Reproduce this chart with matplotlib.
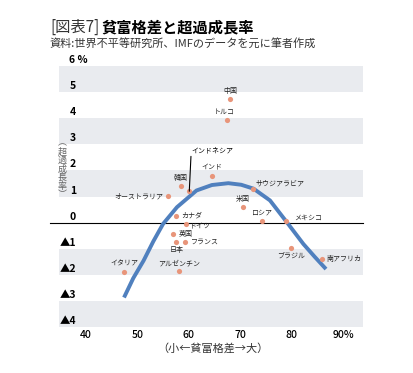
import numpy as np
import matplotlib
matplotlib.use('Agg')
from matplotlib import pyplot as plt

plt.rcParams['font.family'] = ['Noto Sans CJK JP', 'DejaVu Sans']

# data
countries = ['中国', 'トルコ', 'インドネシア', 'インド', '韓国', 'オーストラリア',
             'サウジアラビア', '米国', 'カナダ', 'ドイツ', '英国', '日本',
             'フランス', 'イタリア', 'アルゼンチン', 'ロシア', 'メキシコ',
             'ブラジル', '南アフリカ']
inequality = [68.0, 67.4, 60.1, 64.6, 58.4, 56.0,
              72.4, 70.6, 57.5, 59.4, 57.0, 57.6,
              59.3, 47.4, 58.1, 74.2, 78.9,
              79.9, 85.9]
excess_growth = [4.72, 3.92, 1.20, 1.80, 1.42, 1.01,
                 1.27, 0.59, 0.27, -0.05, -0.45, -0.75,
                 -0.75, -1.88, -1.87, 0.08, 0.08,
                 -0.96, -1.40]

curve_x = [47.4, 49.2, 51.2, 53.1, 55.0, 57.7, 61.5, 64.5, 67.7, 70.2,
           72.6, 75.8, 79.1, 82.3, 84.5, 86.7]
curve_y = [-2.87, -2.13, -1.46, -0.72, -0.05, 0.59, 1.23, 1.44, 1.51, 1.45,
           1.30, 0.85, 0.01, -0.82, -1.31, -1.78]

y_ticks = [6, 5, 4, 3, 2, 1, 0, -1, -2, -3, -4]
y_labels = ['6 %', '5', '4', '3', '2', '1', '0', '▲1', '▲2', '▲3', '▲4']
x_ticks = [40, 50, 60, 70, 80, 90]
x_labels = ['40', '50', '60', '70', '80', '90%']

# label placement (pixel offsets from the dot, alignment)
label_pos = {
    '中国': (0, 8, 'center'), 'トルコ': (-3, 8, 'center'),
    'インド': (-1, 8, 'center'), '韓国': (0, 8, 'center'),
    'オーストラリア': (-5, 0, 'right'), 'サウジアラビア': (3, 6, 'left'),
    '米国': (0, 8, 'center'), 'カナダ': (5, 0, 'left'),
    'ドイツ': (4, -3, 'left'), '英国': (5, 0, 'left'),
    '日本': (0, -8, 'center'), 'フランス': (6, 0, 'left'),
    'イタリア': (0, 8, 'center'), 'アルゼンチン': (0, 8, 'center'),
    'ロシア': (0, 8, 'center'), 'メキシコ': (8, 3, 'left'),
    'ブラジル': (0, -8, 'center'), '南アフリカ': (5, 0, 'left'),
}

W, H = 413, 373
fig = plt.figure(figsize=(W / 100, H / 100), dpi=100)
ax = fig.add_axes([59 / W, 1 - 327 / H, 304 / W, 261 / H])
ax.set_xlim(34.75, 93.9)
ax.set_ylim(-4, 6)

band = '#e9ebef'
for lo in [1, 3, 5, -2, -4]:
    ax.axhspan(lo, lo + 1, color=band, lw=0, zorder=0)

ax.plot([33.0, 93.9], [0, 0], color='black', lw=0.8, clip_on=False, zorder=1)

ax.plot(curve_x, curve_y, color='#5080be', lw=2.8, solid_capstyle='butt',
        solid_joinstyle='round', zorder=2)
ax.scatter(inequality, excess_growth, s=14, color='#e8957a', lw=0, zorder=3)

for name, x, y in zip(countries, inequality, excess_growth):
    if name == 'インドネシア':
        ax.annotate(name, xy=(x, y), xytext=(2, 41), textcoords='offset pixels',
                    fontsize=5, ha='left', va='center',
                    bbox=dict(boxstyle='square,pad=0.3', fc='none', ec='none'),
                    arrowprops=dict(arrowstyle='-', color='black', lw=0.8,
                                    shrinkA=0, shrinkB=0, relpos=(0, 0.6)))
        continue
    dx, dy, ha = label_pos[name]
    ax.annotate(name, xy=(x, y), xytext=(dx, dy), textcoords='offset pixels',
                fontsize=5, ha=ha, va='center', color='#222222')

ytf = ax.get_yaxis_transform()
for v, lab in zip(y_ticks, y_labels):
    if lab.endswith('%'):
        ax.annotate(lab, xy=(10 / 304, v), xycoords=ytf, xytext=(0, 6),
                    textcoords='offset pixels', ha='left', va='center',
                    fontsize=7.5, fontweight='bold', annotation_clip=False)
    else:
        ax.annotate(lab, xy=(17 / 304, v), xycoords=ytf, xytext=(0, 6),
                    textcoords='offset pixels', ha='right', va='center',
                    fontsize=7.5, fontweight='bold', annotation_clip=False)

ax.set_xticks(x_ticks, x_labels)
ax.set_yticks([])
ax.tick_params(axis='x', length=0, pad=2, labelsize=7.5)
for t in ax.get_xticklabels():
    t.set_fontweight('medium')
for s in ax.spines.values():
    s.set_visible(False)

fig.text(50 / W, 1 - 27 / H, '[図表7]', fontsize=11, color='#333333',
         va='center', ha='left')
fig.text(101 / W, 1 - 27 / H, '貧富格差と超過成長率', fontsize=11,
         fontweight='bold', va='center', ha='left')
fig.text(50 / W, 1 - 43 / H, '資料:世界不平等研究所、IMFのデータを元に筆者作成',
         fontsize=8, color='#333333', va='center', ha='left')
fig.text(62 / W, 1 - 169 / H, '︵\n超\n過\n成\n長\n率\n︶', fontsize=6.5,
         linespacing=0.95, color='#666666', ha='center', va='center')
fig.text(213 / W, 1 - 348 / H, '（小←貧富格差→大）', fontsize=8,
         color='#333333', ha='center', va='center')

fig.savefig('out.png', dpi=100)
